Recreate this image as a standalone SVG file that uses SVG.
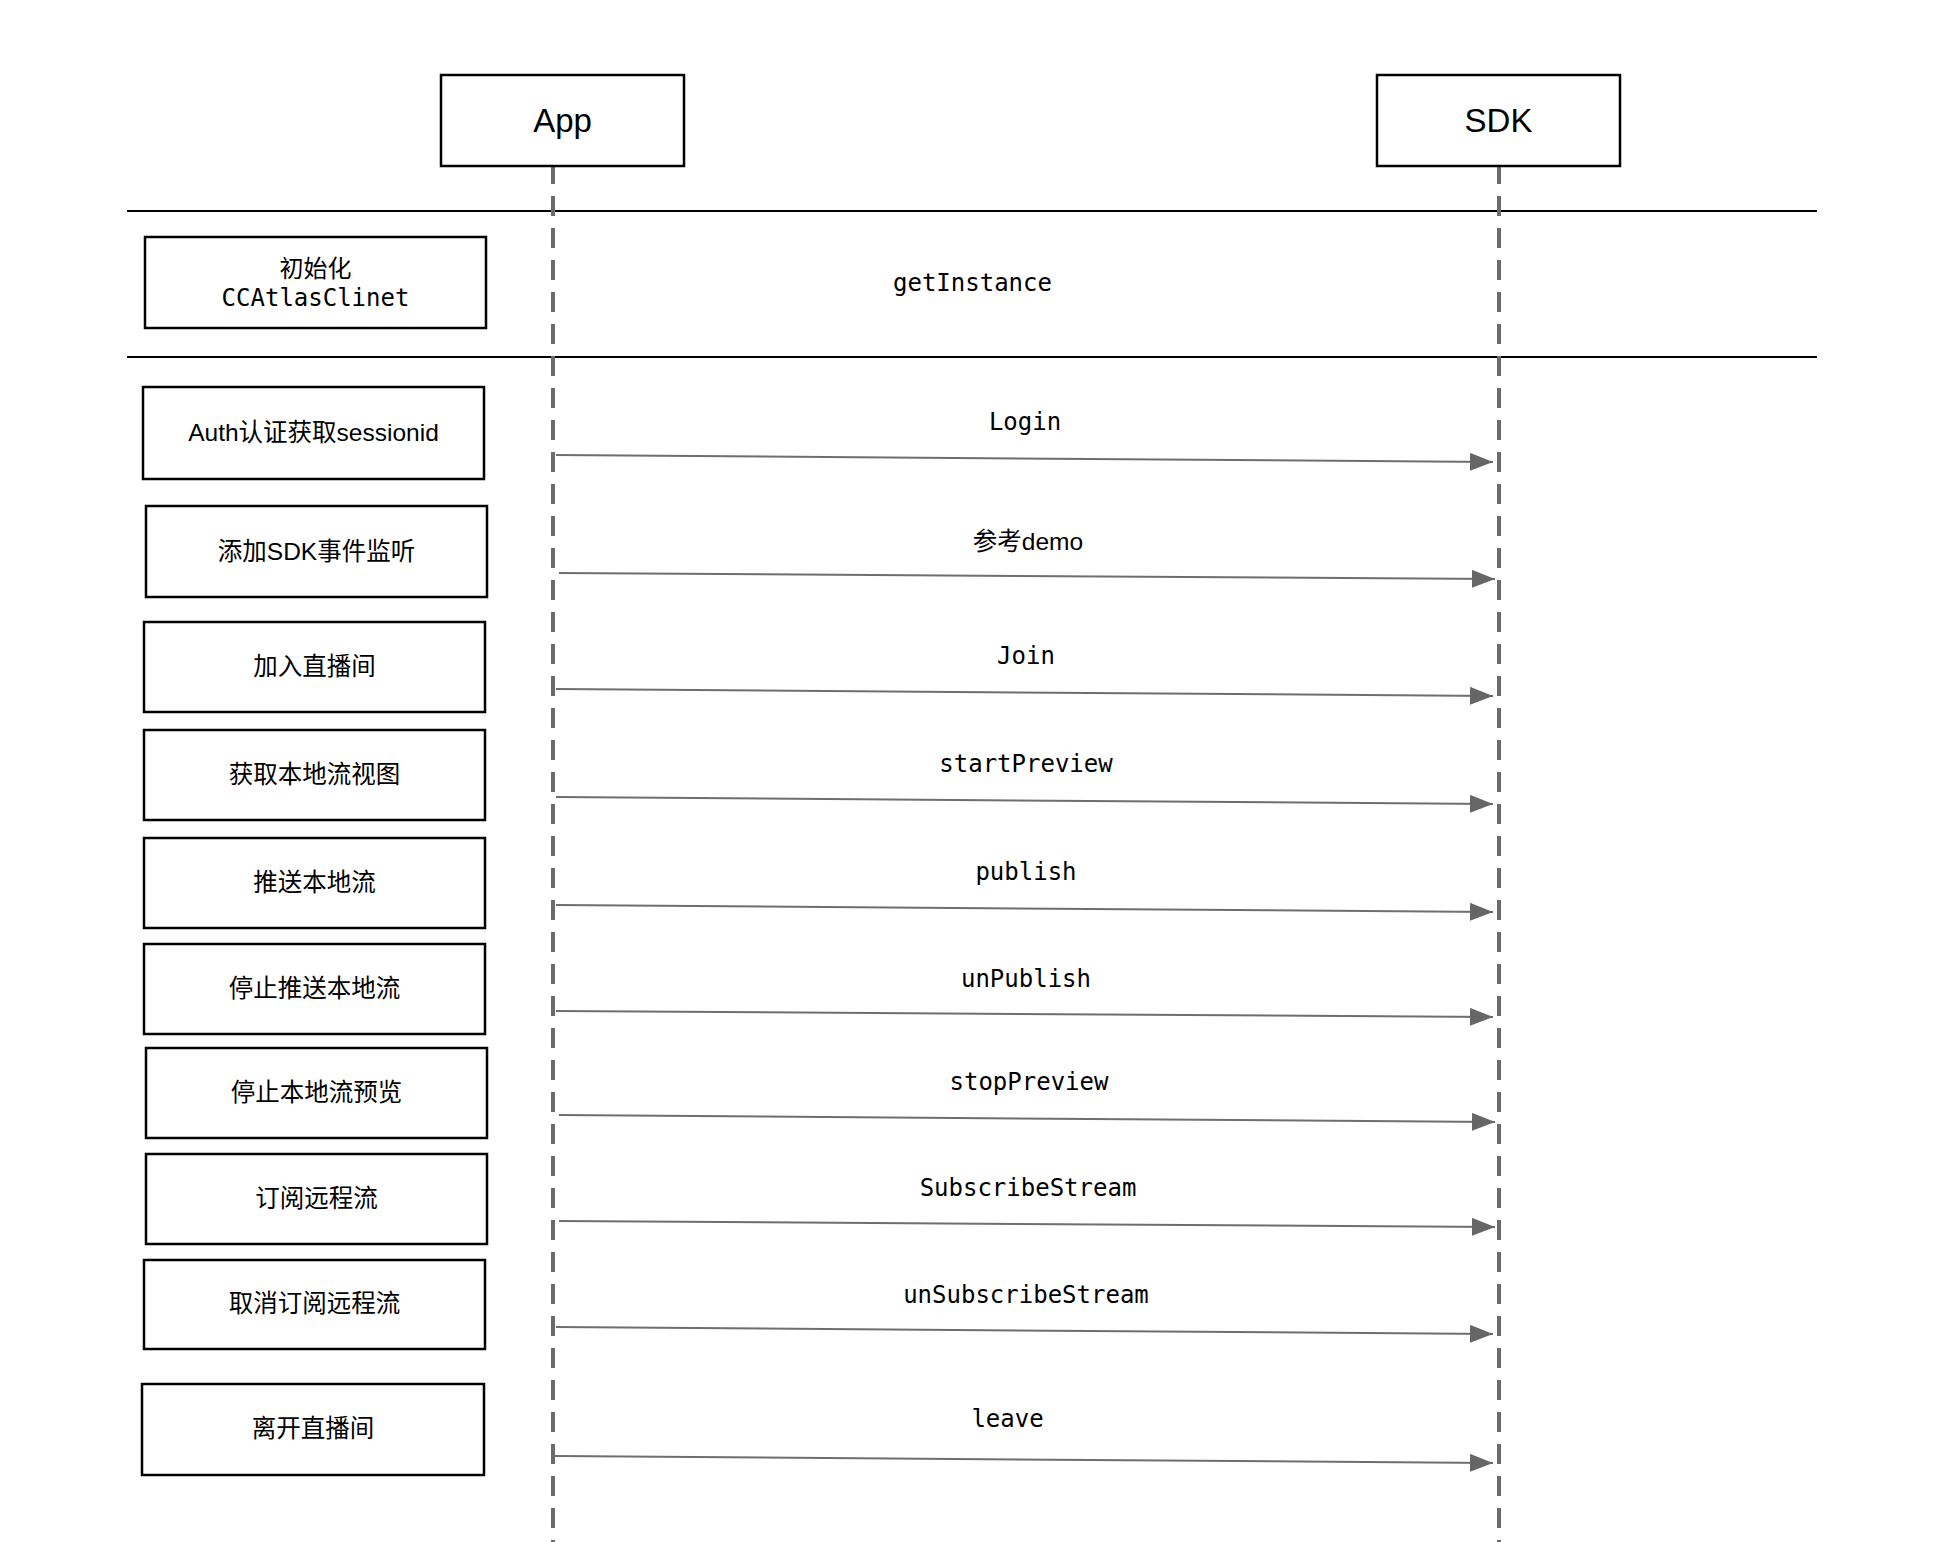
<svg xmlns="http://www.w3.org/2000/svg" width="1948" height="1542" viewBox="0 0 1948 1542">
  <style>
    .box { fill: #ffffff; stroke: #000000; stroke-width: 2.5; }
    .sep { stroke: #000000; stroke-width: 2; }
    .life { stroke: #6b6b6b; stroke-width: 4; stroke-dasharray: 20 12; fill: none; }
    .msg { stroke: #6e6e6e; stroke-width: 2; fill: none; }
    .head { font-family: "Liberation Sans", "Noto Sans CJK SC", sans-serif; font-size: 33px; fill: #000; text-anchor: middle; }
    .step { font-family: "Liberation Sans", "Noto Sans CJK SC", sans-serif; font-size: 24.5px; fill: #000; text-anchor: middle; }
    .code { font-family: "DejaVu Sans Mono", "Noto Sans CJK SC", monospace; font-size: 24px; fill: #000; text-anchor: middle; }
  </style>
  <defs>
    <marker id="arrow" markerUnits="userSpaceOnUse" markerWidth="24" markerHeight="18" refX="23" refY="9" orient="auto">
      <path d="M0,0 L23,9 L0,18 Z" fill="#666666"/>
    </marker>
  </defs>
  <rect width="1948" height="1542" fill="#ffffff"/>

  <!-- section separators -->
  <g id="separators">
    <line class="sep" x1="127" y1="211" x2="1817" y2="211"/>
    <line class="sep" x1="127" y1="357" x2="1817" y2="357"/>
  </g>

  <!-- lifelines -->
  <g id="lifelines">
    <line class="life" x1="553" y1="164" x2="553" y2="1542"/>
    <line class="life" x1="1499" y1="164" x2="1499" y2="1542"/>
  </g>

  <!-- participants -->
  <g id="app">
    <rect class="box" x="441" y="75" width="243" height="91"/>
    <text class="head" x="562.5" y="132">App</text>
  </g>
  <g id="sdk">
    <rect class="box" x="1377" y="75" width="243" height="91"/>
    <text class="head" x="1498.5" y="132">SDK</text>
  </g>

  <!-- step boxes -->
  <g id="step-init">
    <rect class="box" x="145" y="237" width="341" height="91"/>
    <text class="code" x="315.5" y="277">初始化</text>
    <text class="code" x="315.5" y="306">CCAtlasClinet</text>
  </g>
  <g id="step-auth">
    <rect class="box" x="143" y="387" width="341" height="92"/>
    <text class="step" x="313.5" y="441">Auth认证获取sessionid</text>
  </g>
  <g id="step-listen">
    <rect class="box" x="146" y="506" width="341" height="91"/>
    <text class="step" x="316.5" y="560">添加SDK事件监听</text>
  </g>
  <g id="step-join">
    <rect class="box" x="144" y="622" width="341" height="90"/>
    <text class="step" x="314.5" y="675">加入直播间</text>
  </g>
  <g id="step-preview">
    <rect class="box" x="144" y="730" width="341" height="90"/>
    <text class="step" x="314.5" y="783">获取本地流视图</text>
  </g>
  <g id="step-publish">
    <rect class="box" x="144" y="838" width="341" height="90"/>
    <text class="step" x="314.5" y="891">推送本地流</text>
  </g>
  <g id="step-unpublish">
    <rect class="box" x="144" y="944" width="341" height="90"/>
    <text class="step" x="314.5" y="997">停止推送本地流</text>
  </g>
  <g id="step-stoppreview">
    <rect class="box" x="146" y="1048" width="341" height="90"/>
    <text class="step" x="316.5" y="1101">停止本地流预览</text>
  </g>
  <g id="step-subscribe">
    <rect class="box" x="146" y="1154" width="341" height="90"/>
    <text class="step" x="316.5" y="1207">订阅远程流</text>
  </g>
  <g id="step-unsubscribe">
    <rect class="box" x="144" y="1260" width="341" height="89"/>
    <text class="step" x="314.5" y="1312">取消订阅远程流</text>
  </g>
  <g id="step-leave">
    <rect class="box" x="142" y="1384" width="342" height="91"/>
    <text class="step" x="313" y="1437">离开直播间</text>
  </g>

  <!-- messages App -> SDK -->
  <g id="connectors">
    <line class="msg" x1="556" y1="455" x2="1493" y2="462" marker-end="url(#arrow)"/>
    <line class="msg" x1="559" y1="573" x2="1495" y2="579" marker-end="url(#arrow)"/>
    <line class="msg" x1="556" y1="689" x2="1493" y2="696" marker-end="url(#arrow)"/>
    <line class="msg" x1="556" y1="797" x2="1493" y2="804" marker-end="url(#arrow)"/>
    <line class="msg" x1="556" y1="905" x2="1493" y2="912" marker-end="url(#arrow)"/>
    <line class="msg" x1="556" y1="1011" x2="1493" y2="1017" marker-end="url(#arrow)"/>
    <line class="msg" x1="559" y1="1115" x2="1495" y2="1122" marker-end="url(#arrow)"/>
    <line class="msg" x1="559" y1="1221" x2="1495" y2="1227" marker-end="url(#arrow)"/>
    <line class="msg" x1="556" y1="1327" x2="1493" y2="1334" marker-end="url(#arrow)"/>
    <line class="msg" x1="555" y1="1456" x2="1493" y2="1463" marker-end="url(#arrow)"/>
  </g>

  <!-- message labels -->
  <g id="labels">
    <text class="code" x="972.5" y="291">getInstance</text>
    <text class="code" x="1025" y="430">Login</text>
    <text class="step" x="1028" y="550">参考demo</text>
    <text class="code" x="1026" y="664">Join</text>
    <text class="code" x="1026" y="772">startPreview</text>
    <text class="code" x="1026" y="880">publish</text>
    <text class="code" x="1026" y="987">unPublish</text>
    <text class="code" x="1029" y="1090">stopPreview</text>
    <text class="code" x="1028" y="1196">SubscribeStream</text>
    <text class="code" x="1026" y="1303">unSubscribeStream</text>
    <text class="code" x="1007.5" y="1427">leave</text>
  </g>
</svg>
